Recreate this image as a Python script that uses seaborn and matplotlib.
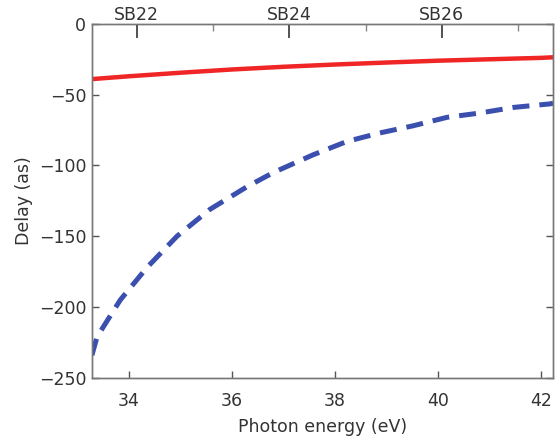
import numpy as np
import pandas as pd
import matplotlib
matplotlib.use('Agg')
import matplotlib.pyplot as plt
import seaborn as sns

# Values
energy_red = [33.28, 34.0, 35.0, 36.0, 37.0, 38.0, 39.0, 40.0, 41.0, 42.0, 42.23]
delay_red = [-39.0, -37.0, -34.5, -32.2, -30.3, -28.7, -27.3, -26.0, -25.0, -24.0, -23.6]

energy_blue = [33.28, 33.38, 33.83, 34.35, 34.93, 35.57, 36.29, 36.8, 37.57, 38.23,
               38.87, 39.51, 40.17, 40.8, 41.46, 42.17, 42.23]
delay_blue = [-234, -221, -195, -172, -150, -131, -115, -105, -92.5, -83,
              -77, -72, -66, -63, -59, -56.5, -56]

sb_major = [34.15, 37.11, 40.07]
sb_labels = ['SB22', 'SB24', 'SB26']
sb_minor = [35.63, 38.59, 41.55]

sns.set_style("ticks")
plt.rcParams['font.family'] = ['DejaVu Sans']
text_col = '#333333'
fs = 12.5

df_red = pd.DataFrame({'energy': energy_red, 'delay': delay_red})
df_blue = pd.DataFrame({'energy': energy_blue, 'delay': delay_blue})

fig = plt.figure(figsize=(5.57, 4.42), dpi=100)
ax = fig.add_axes([0.165, 0.145, 0.828, 0.801])

sns.lineplot(data=df_red, x='energy', y='delay', color='#f02525', lw=3.2, ax=ax)
sns.lineplot(data=df_blue, x='energy', y='delay', color='#3a4fae', lw=3.6, ax=ax,
             dashes=False, linestyle=(0, (3.4, 2.0)))

ax.set_xlim(33.28, 42.23)
ax.set_ylim(-250, 0)
ax.set_xticks([34, 36, 38, 40, 42])
ax.set_yticks([0, -50, -100, -150, -200, -250])
ax.set_yticklabels(['0', '\u221250', '\u2212100', '\u2212150', '\u2212200', '\u2212250'])
ax.set_xlabel('Photon energy (eV)', fontsize=fs, color=text_col, labelpad=6)
ax.set_ylabel('Delay (as)', fontsize=fs, color=text_col, labelpad=4)
ax.tick_params(axis='both', direction='in', labelsize=fs, labelcolor=text_col,
               color='#555555', length=5, width=1)
ax.tick_params(axis='x', pad=10)
ax.tick_params(axis='y', right=True, pad=4)

for s in ax.spines.values():
    s.set_color('#777777')
    s.set_linewidth(1)

top = ax.twiny()
top.set_xlim(ax.get_xlim())
top.set_xticks(sb_major)
top.set_xticklabels(sb_labels)
top.set_xticks(sb_minor, minor=True)
top.tick_params(axis='x', which='major', direction='in', length=10, width=1.3,
                color='#444444', labelsize=fs, labelcolor=text_col, pad=0)
top.tick_params(axis='x', which='minor', direction='in', length=5, width=1,
                color='#888888')
for s in top.spines.values():
    s.set_color('#777777')
    s.set_linewidth(1)

fig.savefig('out.png', dpi=100)
